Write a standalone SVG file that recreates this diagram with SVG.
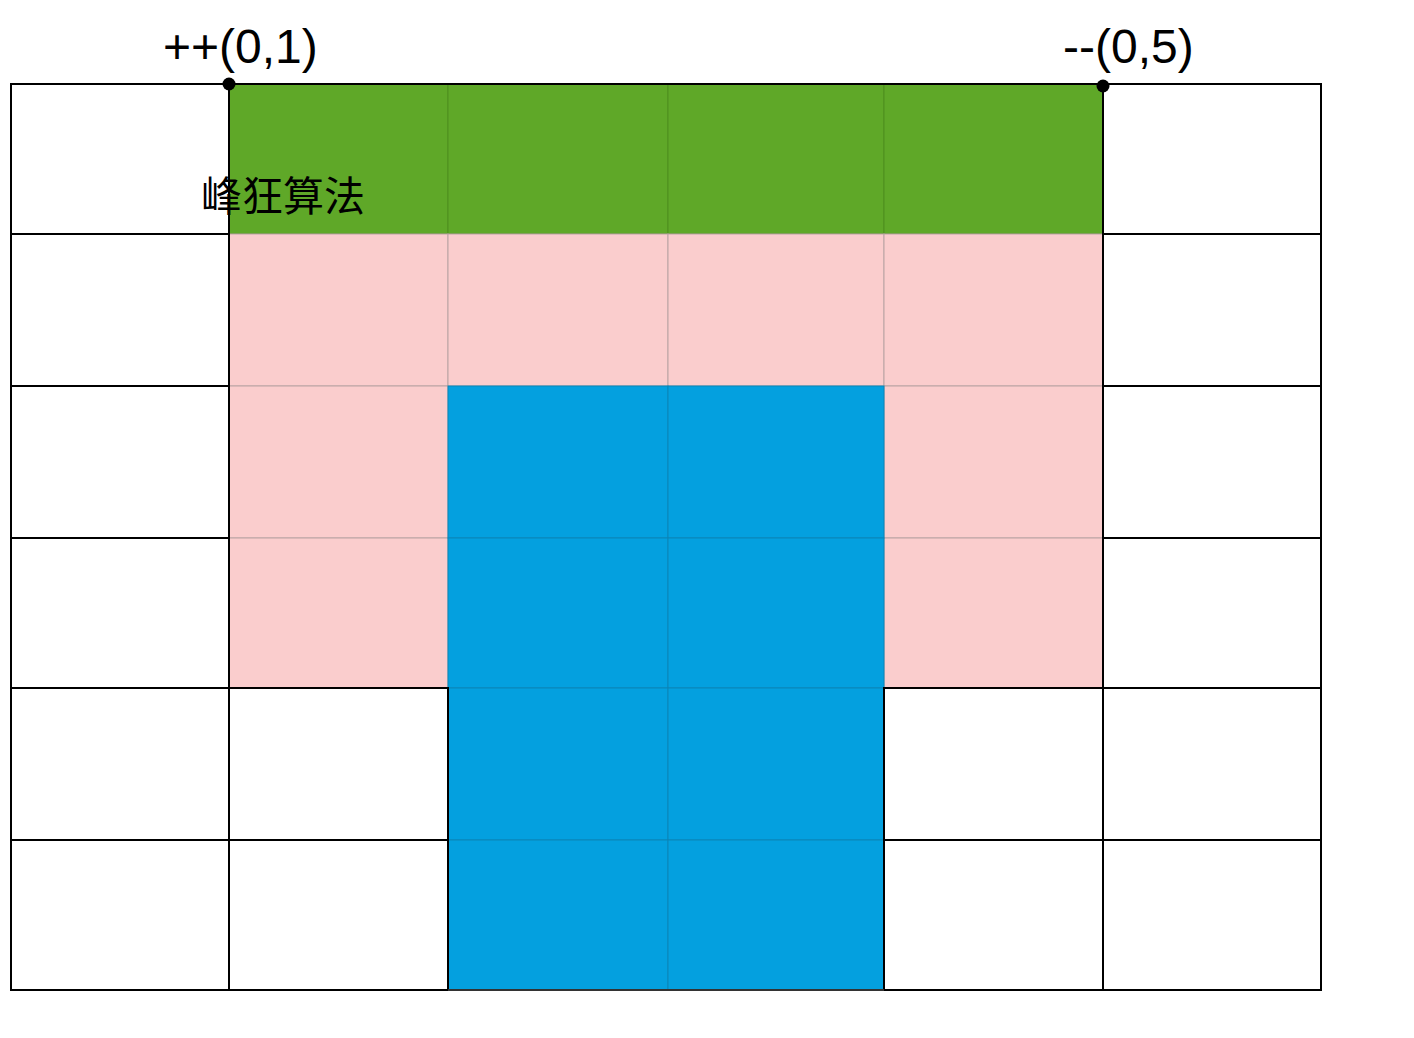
<svg xmlns="http://www.w3.org/2000/svg" width="1414" height="1038" viewBox="0 0 1414 1038">
<style>
.g{fill:#5FA828;stroke:#4E8F1F;stroke-width:1}
.p{fill:#FACDCD;stroke:#B9A3A3;stroke-width:1}
.b{fill:#04A0DF;stroke:#0A85B8;stroke-width:1}
.w{fill:#FFFFFF;stroke:#000;stroke-width:2}
.lbl{font-family:"Liberation Sans",Arial,sans-serif;font-size:48px;fill:#000}
.cn{font-family:"Noto Sans CJK SC","Liberation Sans",sans-serif;font-size:41px;fill:#000}
</style>
<rect width="1414" height="1038" fill="#fff"/>
<g id="colored">
<rect class="g" x="229" y="84" width="219" height="150"/>
<rect class="g" x="448" y="84" width="220" height="150"/>
<rect class="g" x="668" y="84" width="216" height="150"/>
<rect class="g" x="884" y="84" width="219" height="150"/>
<rect class="p" x="229" y="234" width="219" height="152"/>
<rect class="p" x="448" y="234" width="220" height="152"/>
<rect class="p" x="668" y="234" width="216" height="152"/>
<rect class="p" x="884" y="234" width="219" height="152"/>
<rect class="p" x="229" y="386" width="219" height="152"/>
<rect class="p" x="884" y="386" width="219" height="152"/>
<rect class="p" x="229" y="538" width="219" height="150"/>
<rect class="p" x="884" y="538" width="219" height="150"/>
<rect class="b" x="448" y="386" width="220" height="152"/>
<rect class="b" x="668" y="386" width="216" height="152"/>
<rect class="b" x="448" y="538" width="220" height="150"/>
<rect class="b" x="668" y="538" width="216" height="150"/>
<rect class="b" x="448" y="688" width="220" height="152"/>
<rect class="b" x="668" y="688" width="216" height="152"/>
<rect class="b" x="448" y="840" width="220" height="150"/>
<rect class="b" x="668" y="840" width="216" height="150"/>
</g>
<g id="white">
<rect class="w" x="11" y="84" width="218" height="150"/>
<rect class="w" x="11" y="234" width="218" height="152"/>
<rect class="w" x="11" y="386" width="218" height="152"/>
<rect class="w" x="11" y="538" width="218" height="150"/>
<rect class="w" x="11" y="688" width="218" height="152"/>
<rect class="w" x="11" y="840" width="218" height="150"/>
<rect class="w" x="229" y="688" width="219" height="152"/>
<rect class="w" x="229" y="840" width="219" height="150"/>
<rect class="w" x="884" y="688" width="219" height="152"/>
<rect class="w" x="884" y="840" width="219" height="150"/>
<rect class="w" x="1103" y="84" width="218" height="150"/>
<rect class="w" x="1103" y="234" width="218" height="152"/>
<rect class="w" x="1103" y="386" width="218" height="152"/>
<rect class="w" x="1103" y="538" width="218" height="150"/>
<rect class="w" x="1103" y="688" width="218" height="152"/>
<rect class="w" x="1103" y="840" width="218" height="150"/>
</g>
<g id="connectors">
<line x1="229" y1="84" x2="1103" y2="84" stroke="#000" stroke-width="2"/>
<line x1="448" y1="990" x2="884" y2="990" stroke="#333" stroke-width="2"/>
</g>
<g id="markers">
<circle cx="229" cy="84" r="6.5" fill="#000"/>
<circle cx="1103" cy="86" r="6.5" fill="#000"/>
</g>
<g id="labels">
<text class="lbl" x="163" y="63">++(0,1)</text>
<text class="lbl" x="1063" y="63">--(0,5)</text>
<text class="cn" x="201" y="211">峰狂算法</text>
</g>
</svg>
